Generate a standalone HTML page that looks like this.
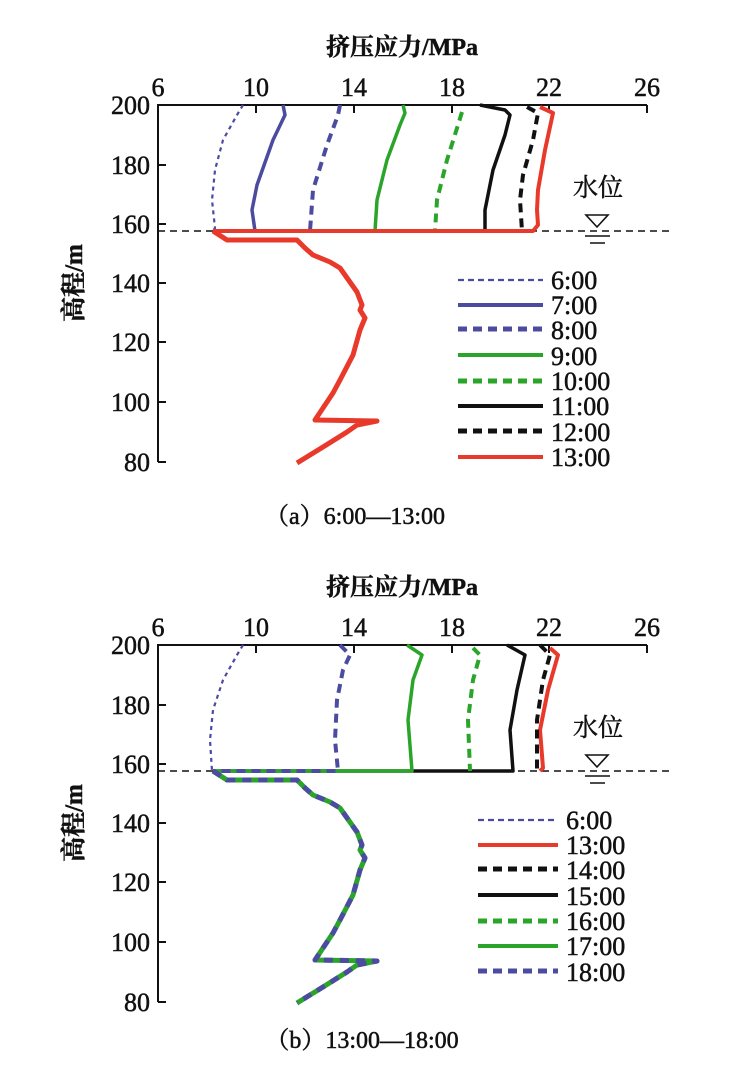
<!DOCTYPE html>
<html><head><meta charset="utf-8"><style>
body{margin:0;background:#fff}
svg{display:block}
text{font-family:"Liberation Serif","Noto Serif CJK SC",serif;fill:#111;stroke:#111;stroke-width:0.5}
</style></head><body>
<svg width="746" height="1075" viewBox="0 0 746 1075" xmlns="http://www.w3.org/2000/svg">
<defs>
<g id="frame">
  <text x="402" y="55" font-size="24" font-weight="bold" text-anchor="middle">挤压应力/MPa</text>
  <g font-size="26" text-anchor="middle">
    <text x="158" y="96">6</text><text x="256" y="96">10</text><text x="354" y="96">14</text>
    <text x="452" y="96">18</text><text x="549" y="96">22</text><text x="647" y="96">26</text>
  </g>
  <g font-size="26" text-anchor="end">
    <text x="150" y="114">200</text><text x="150" y="174">180</text><text x="150" y="233">160</text>
    <text x="150" y="292">140</text><text x="150" y="351">120</text><text x="150" y="411">100</text>
    <text x="150" y="471">80</text>
  </g>
  <text transform="translate(82,283) rotate(-90)" font-size="25" font-weight="bold" text-anchor="middle">高程/m</text>
  <g stroke="#111" stroke-width="2" fill="none">
    <path d="M158,462 V105 H647"/>
    <path d="M256,105v8M354,105v8M452,105v8M549,105v8M647,105v8"/>
    <path d="M158,165h8M158,224h8M158,283h8M158,342h8M158,402h8M158,462h8"/>
  </g>
  <path d="M158,231 H670" stroke="#111" stroke-width="1.5" stroke-dasharray="7,5"/>
  <text x="573" y="196" font-size="25">水位</text>
  <path d="M586,215 L608,215 L597,227 Z" fill="none" stroke="#111" stroke-width="1.6"/>
  <path d="M585,236 H610 M590,243 H605" stroke="#111" stroke-width="1.6"/>
</g>
<path id="lower" d="M213,231 L227,240 L297,240 L305,248 L313,255 L330,262 L340,268 L357,292 L362,305 L360,310 L365,318 L360,330 L353,355 L340,380 L333,393 L315,420 L377,421 L357,425 L347,432 L323,447 L297,463"/>
</defs>

<!-- Chart a -->
<use href="#frame"/>
<g fill="none" stroke-linejoin="round" stroke-linecap="butt">
  <path d="M243,105 L237,115 L223,140 L215,170 L212,200 L215,228 L213,231" stroke="#4b4ba0" stroke-width="2.2" stroke-dasharray="4,4"/>
  <path d="M283,105 L285,115 L273,140 L257,185 L252,210 L255,231" stroke="#4b4ba0" stroke-width="3.5"/>
  <path d="M340,105 L338,115 L327,145 L313,190 L310,231" stroke="#4b4ba0" stroke-width="4" stroke-dasharray="9,6"/>
  <path d="M403,105 L405,113 L400,125 L387,160 L377,200 L375,231" stroke="#2aa52a" stroke-width="3.5"/>
  <path d="M462,112 L458,125 L447,160 L437,200 L435,231" stroke="#2aa52a" stroke-width="4" stroke-dasharray="9,6"/>
  <path d="M480,105 L505,110 L510,115 L505,135 L493,170 L485,210 L485,231" stroke="#111" stroke-width="3.5"/>
  <path d="M527,107 L538,113 L533,140 L523,175 L520,200 L522,231" stroke="#111" stroke-width="4" stroke-dasharray="9,6"/>
  <path d="M540,107 L553,113 L545,150 L538,190 L537,210 L538,225 L533,231 L213,231" stroke="#e8392b" stroke-width="4"/>
  <use href="#lower" stroke="#e8392b" stroke-width="5"/>
</g>
<g font-size="26">
  <g fill="none">
    <path d="M458,280 H543" stroke="#4b4ba0" stroke-width="2.2" stroke-dasharray="6,4"/>
    <path d="M458,305 H543" stroke="#4b4ba0" stroke-width="4"/>
    <path d="M458,329 H543" stroke="#4b4ba0" stroke-width="5" stroke-dasharray="9,6"/>
    <path d="M458,355 H543" stroke="#2aa52a" stroke-width="4"/>
    <path d="M458,381 H543" stroke="#2aa52a" stroke-width="5" stroke-dasharray="9,6"/>
    <path d="M458,406 H543" stroke="#111" stroke-width="4"/>
    <path d="M458,431 H543" stroke="#111" stroke-width="5" stroke-dasharray="9,6"/>
    <path d="M458,457 H543" stroke="#e8392b" stroke-width="4"/>
  </g>
  <text x="551" y="289">6:00</text><text x="551" y="314">7:00</text><text x="551" y="339">8:00</text>
  <text x="551" y="365">9:00</text><text x="551" y="390">10:00</text><text x="551" y="415">11:00</text>
  <text x="551" y="441">12:00</text><text x="551" y="466">13:00</text>
</g>
<text x="355" y="524" font-size="24" text-anchor="middle">（a）6:00—13:00</text>

<!-- Chart b -->
<g transform="translate(0,540)">
<use href="#frame"/>
<g fill="none" stroke-linejoin="round">
  <path d="M243,105 L237,115 L223,140 L213,170 L210,200 L212,231" stroke="#4b4ba0" stroke-width="2.2" stroke-dasharray="4,4"/>
  <path d="M550,108 L558,115 L548,150 L540,190 L543,228 L540,231" stroke="#e8392b" stroke-width="4"/>
  <path d="M540,105 L550,115 L543,140 L537,180 L537,231" stroke="#111" stroke-width="4" stroke-dasharray="9,6"/>
  <path d="M507,105 L525,115 L517,150 L510,190 L513,231 L213,231" stroke="#111" stroke-width="3.5"/>
  <path d="M473,108 L480,115 L473,140 L468,180 L470,231" stroke="#2aa52a" stroke-width="4" stroke-dasharray="9,6"/>
  <path d="M407,105 L422,115 L413,140 L408,180 L412,231 L213,231" stroke="#2aa52a" stroke-width="3.5"/>
  <path d="M340,105 L350,115 L343,130 L337,160 L335,200 L338,231 L213,231" stroke="#4b4ba0" stroke-width="4" stroke-dasharray="9,6"/>
  <use href="#lower" stroke="#2aa52a" stroke-width="5"/>
  <use href="#lower" stroke="#4b4ba0" stroke-width="5" stroke-dasharray="9,7"/>
</g>
<g font-size="26">
  <g fill="none">
    <path d="M478,280 H558" stroke="#4b4ba0" stroke-width="2.2" stroke-dasharray="6,4"/>
    <path d="M478,305 H558" stroke="#e8392b" stroke-width="4"/>
    <path d="M478,329 H558" stroke="#111" stroke-width="5" stroke-dasharray="9,6"/>
    <path d="M478,355 H558" stroke="#111" stroke-width="4"/>
    <path d="M478,381 H558" stroke="#2aa52a" stroke-width="5" stroke-dasharray="9,6"/>
    <path d="M478,406 H558" stroke="#2aa52a" stroke-width="4"/>
    <path d="M478,431 H558" stroke="#4b4ba0" stroke-width="5" stroke-dasharray="9,6"/>
  </g>
  <text x="566" y="289">6:00</text><text x="566" y="314">13:00</text><text x="566" y="339">14:00</text>
  <text x="566" y="365">15:00</text><text x="566" y="390">16:00</text><text x="566" y="415">17:00</text>
  <text x="566" y="441">18:00</text>
</g>
<text x="362" y="508" font-size="24" text-anchor="middle">（b）13:00—18:00</text>
</g>
</svg>
</body></html>
